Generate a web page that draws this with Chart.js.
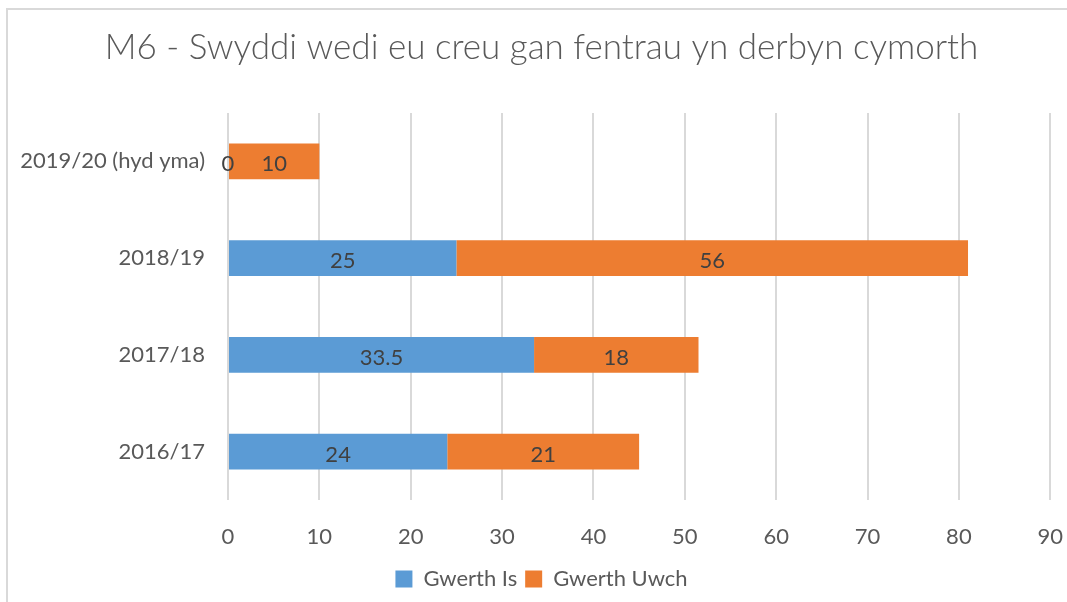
<!DOCTYPE html>
<html>
<head>
<meta charset="utf-8">
<script src="https://cdn.jsdelivr.net/npm/chart.js@4"></script>
<style>
  html, body { margin: 0; padding: 0; background: #fff; overflow: hidden; }
  #frame {
    position: absolute; left: 6px; top: 8px;
    width: 1100px; height: 650px;
    border: 2px solid #d9d9d9;
  }
  #wrap { position: absolute; left: 0; top: 0; width: 1087px; height: 602px; }
</style>
</head>
<body>
<div id="frame"></div>
<div id="wrap"><canvas id="chart"></canvas></div>
<script>
// M6 chart data (top to bottom, as shown)
const categories = ['2019/20 (hyd yma)', '2018/19', '2017/18', '2016/17'];
const gwerthIs   = [0, 25, 33.5, 24];
const gwerthUwch = [10, 56, 18, 21];
const xTicks     = [0, 10, 20, 30, 40, 50, 60, 70, 80, 90];

const FONT = 'Lato, "Open Sans", sans-serif';

/* ── Inline plugin: value labels centred in each bar segment ── */
const barLabels = {
  id: 'barLabels',
  afterDatasetsDraw(chart) {
    const ctx = chart.ctx;
    ctx.save();
    ctx.font = '22px ' + FONT;
    ctx.fillStyle = '#404040';
    ctx.textAlign = 'center';
    ctx.textBaseline = 'middle';
    chart.data.datasets.forEach((ds, di) => {
      const meta = chart.getDatasetMeta(di);
      meta.data.forEach((bar, i) => {
        const p = bar.getProps(['x', 'y', 'base'], true);
        ctx.fillText(String(ds.data[i]), (p.x + p.base) / 2, p.y + 3);
      });
    });
    ctx.restore();
  }
};

new Chart(document.getElementById('chart'), {
  type: 'bar',
  data: {
    labels: categories,
    datasets: [
      { label: 'Gwerth Is',   data: gwerthIs,   backgroundColor: '#5B9BD5', barPercentage: 0.55, categoryPercentage: 0.67 },
      { label: 'Gwerth Uwch', data: gwerthUwch, backgroundColor: '#ED7D31', barPercentage: 0.55, categoryPercentage: 0.67 }
    ]
  },
  options: {
    indexAxis: 'y',
    responsive: true,
    maintainAspectRatio: false,
    animation: false,
    layout: { padding: { left: 0, right: 4, top: 0, bottom: 2 } },
    plugins: {
      title: {
        display: true,
        text: 'M6 - Swyddi wedi eu creu gan fentrau yn derbyn cymorth',
        color: '#595959',
        font: { family: FONT, size: 35, weight: '300' },
        padding: { top: 27, bottom: 44 }
      },
      legend: {
        position: 'bottom',
        labels: {
          color: '#595959',
          font: { family: FONT, size: 22 },
          boxWidth: 17,
          boxHeight: 17,
          padding: 8
        }
      },
      tooltip: { enabled: false }
    },
    scales: {
      x: {
        stacked: true,
        min: 0,
        max: 90,
        afterBuildTicks: s => { s.ticks = xTicks.map(v => ({ value: v })); },
        grid: { color: '#d9d9d9', lineWidth: 2, drawTicks: false },
        border: { display: false },
        ticks: { color: '#595959', font: { family: FONT, size: 22 }, padding: 24 },
        afterFit: s => { s.height = 60; }
      },
      y: {
        stacked: true,
        grid: { display: false },
        border: { display: false },
        ticks: { color: '#595959', font: { family: FONT, size: 22 }, padding: 15 },
        afterFit: s => { s.width = 228; }
      }
    }
  },
  plugins: [barLabels]
});
</script>
</body>
</html>
